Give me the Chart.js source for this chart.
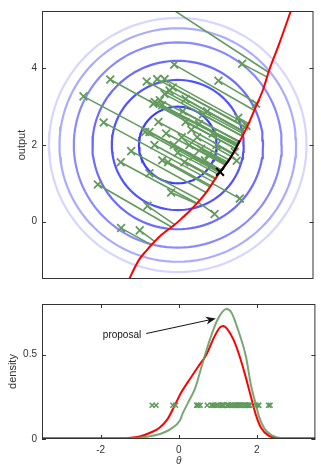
<!DOCTYPE html>
<html>
<head>
<meta charset="utf-8">
<script src="https://cdn.jsdelivr.net/npm/chart.js@4.4.0/dist/chart.umd.min.js"></script>
<style>
  html, body { margin: 0; padding: 0; background: #fff; }
  #wrap { position: relative; width: 321px; height: 467px; }
  canvas { position: absolute; left: 0; }
  #topChart { top: 0; }
  #bottomChart { top: 290px; }
</style>
</head>
<body>
<div id="wrap">
  <canvas id="topChart" width="321" height="290"></canvas>
  <canvas id="bottomChart" width="321" height="177"></canvas>
</div>
<script>
// ---- tick positions ----
const topYTicks = [0, 2, 4];
const bottomXTicks = [-2, 0, 2];
const bottomYTicks = [0, 0.5];

// ---- prior contours (centre + radii of the level circles) ----
const contourCenter = [0, 2];
const contourRadii = [1.0, 1.7, 2.2, 2.68, 3.05, 3.32];
const contourColors = ['#3d3dff', '#5252ff', '#6c6cff', '#8a8aff', '#ababff', '#d6d6ff'];

// ---- forward model curve ----
const curveTheta = [-1.3, -1.0, -0.8, -0.67, -0.5, -0.3, -0.1, 0.1, 0.34, 0.71, 1.09, 1.35, 1.6, 1.8, 1.98, 2.2, 2.36, 2.6, 2.95];
const curveOut   = [-1.6, -1.0, -0.75, -0.6, -0.42, -0.25, -0.1, 0.08, 0.31, 0.73, 1.3, 1.65, 2.1, 2.5, 2.92, 3.45, 3.96, 4.6, 5.6];

// ---- samples and where they land on the curve ----
const sampleTheta = [-0.9, -0.09, 1.66, 1.05, -1.74, -0.8, -0.53, -0.34, -2.43, -0.13, -0.34, -0.59, -0.4, -0.21, -0.46,
  -1.91, -0.84, -0.73, -0.63, -1.2, -1.47, -0.25, -0.73, -2.06, -0.17, -0.78, -1.46, -0.98, 1.52, 1.6, 0.95, 0.17,
  1.47, 1.56, 1.77, 0.76, 0.13, 2.02, 0.2, 0.35, 0.5, 0.1, 0.3, 0.6, -0.1, 0.0, 0.4, 0.7, 0.9, 1.0, 0.8, 0.55,
  -0.3, -0.5, 0.2, 0.65, -0.6, -0.4];
const sampleOut = [6.05, 4.1, 4.12, 3.68, 3.71, 3.66, 3.72, 3.72, 3.27, 3.5, 3.33, 3.12, 3.04, 3.42, 3.17,
  2.59, 2.34, 2.34, 3.08, 1.84, 1.55, 1.55, 1.26, 0.97, 0.76, 0.41, -0.17, -0.23, 1.59, 0.6, 0.2, 1.55,
  1.82, 2.71, 2.5, 2.88, 2.88, 3.08, 2.6, 2.4, 2.2, 2.2, 2.0, 1.9, 2.0, 1.8, 1.7, 1.6, 2.3, 2.0, 1.75, 2.55,
  2.3, 2.6, 3.2, 2.8, 2.0, 1.6];
const projTheta = [2.34, 1.98, 2.3, 2.05, 1.5, 1.7, 1.77, 1.81, 1.15, 1.78, 1.67, 1.54, 1.55, 1.72, 1.6,
  0.93, 1.1, 1.12, 1.57, 0.73, 0.47, 0.86, 0.55, -0.15, 0.46, -0.08, -0.68, -0.58, 1.37, 0.9, 0.5, 0.99,
  1.46, 1.82, 1.78, 1.73, 1.59, 2.04, 1.5, 1.43, 1.38, 1.29, 1.25, 1.27, 1.13, 1.07, 1.12, 1.15, 1.53, 1.42, 1.26, 1.55,
  1.24, 1.33, 1.72, 1.67, 1.0, 0.84];
const projOut = [3.9, 2.9, 3.78, 3.08, 1.9, 2.29, 2.44, 2.52, 1.33, 2.46, 2.23, 1.98, 2.0, 2.33, 2.09,
  1.03, 1.26, 1.29, 2.03, 0.76, 0.49, 0.93, 0.57, -0.15, 0.48, -0.08, -0.61, -0.53, 1.69, 0.99, 0.52, 1.1,
  1.83, 2.56, 2.47, 2.35, 2.07, 3.06, 1.9, 1.78, 1.7, 1.55, 1.48, 1.52, 1.3, 1.22, 1.29, 1.33, 1.96, 1.76, 1.5, 2.0,
  1.47, 1.61, 2.33, 2.23, 1.12, 0.9];

// ---- highlighted point and local segment ----
const refTheta = [1.09];
const refOut = [1.3];
const segTheta = [1.08, 1.35, 1.6];
const segOut = [1.28, 1.65, 2.12];

// ---- densities ----
const trueTheta = [-3.5, -1.5, -1.0, -0.7, -0.5, -0.3, -0.1, 0.05, 0.3, 0.5, 0.71, 0.9, 1.05, 1.14, 1.25, 1.4, 1.56, 1.7, 1.85, 1.98, 2.1, 2.3, 2.5, 3.5];
const trueDensity = [0.004, 0.004, 0.015, 0.04, 0.065, 0.113, 0.2, 0.27, 0.36, 0.43, 0.5, 0.6, 0.66, 0.67, 0.65, 0.59, 0.49, 0.38, 0.25, 0.14, 0.07, 0.02, 0.006, 0.004];
const propTheta = [-3.5, -1.5, -1.0, -0.55, -0.2, 0.03, 0.1, 0.25, 0.42, 0.6, 0.8, 1.0, 1.22, 1.35, 1.5, 1.72, 1.85, 1.98, 2.06, 2.2, 2.4, 2.6, 3.5];
const propDensity = [0.004, 0.004, 0.008, 0.025, 0.06, 0.11, 0.15, 0.22, 0.3, 0.44, 0.59, 0.71, 0.77, 0.75, 0.66, 0.49, 0.32, 0.2, 0.13, 0.06, 0.02, 0.006, 0.004];
const sampleLevel = 0.2;

// ---- annotation ----
const noteText = 'proposal';
const noteAt = [-0.96, 0.612];
const arrowFrom = [-0.83, 0.625];
const arrowTo = [0.95, 0.714];

const green = '#639a5e';
const tickFont = { family: 'Liberation Sans', size: 10 };

function pts(xs, ys) { return xs.map((x, i) => ({ x: x, y: ys[i] })); }

// box around the plot with inward ticks on all four sides
const framePlugin = {
  id: 'frame',
  afterDraw(chart, args, opts) {
    const { ctx, chartArea: a, scales } = chart;
    ctx.save();
    ctx.strokeStyle = '#333';
    ctx.lineWidth = 1;
    ctx.strokeRect(a.left + 0.5, a.top + 0.5, a.right - a.left - 1, a.bottom - a.top - 1);
    ctx.beginPath();
    (opts.yTicks || []).forEach(v => {
      const y = Math.round(scales.y.getPixelForValue(v)) + 0.5;
      ctx.moveTo(a.left, y); ctx.lineTo(a.left + 4, y);
      ctx.moveTo(a.right - 4, y); ctx.lineTo(a.right, y);
    });
    (opts.xTicks || []).forEach(v => {
      const x = Math.round(scales.x.getPixelForValue(v)) + 0.5;
      ctx.moveTo(x, a.top); ctx.lineTo(x, a.top + 4);
      ctx.moveTo(x, a.bottom - 4); ctx.lineTo(x, a.bottom);
    });
    ctx.stroke();
    ctx.restore();
  }
};

// text label with an arrow pointing at the proposal peak
const notePlugin = {
  id: 'note',
  afterDraw(chart) {
    const { ctx, scales: { x, y } } = chart;
    const tx = x.getPixelForValue(noteAt[0]), ty = y.getPixelForValue(noteAt[1]);
    const x0 = x.getPixelForValue(arrowFrom[0]), y0 = y.getPixelForValue(arrowFrom[1]);
    const x1 = x.getPixelForValue(arrowTo[0]), y1 = y.getPixelForValue(arrowTo[1]);
    ctx.save();
    ctx.fillStyle = '#111';
    ctx.font = '10px "Liberation Sans"';
    ctx.textAlign = 'right';
    ctx.textBaseline = 'middle';
    ctx.fillText(noteText, tx, ty);
    const ang = Math.atan2(y1 - y0, x1 - x0);
    ctx.strokeStyle = '#111';
    ctx.lineWidth = 1;
    ctx.beginPath();
    ctx.moveTo(x0, y0);
    ctx.lineTo(x1 - 6 * Math.cos(ang), y1 - 6 * Math.sin(ang));
    ctx.stroke();
    ctx.translate(x1, y1);
    ctx.rotate(ang);
    ctx.beginPath();
    ctx.moveTo(0, 0);
    ctx.lineTo(-10, -4);
    ctx.lineTo(-7, 0);
    ctx.lineTo(-10, 4);
    ctx.closePath();
    ctx.fill();
    ctx.restore();
  }
};

// ---- top panel ----
const contourSets = contourRadii.map((r, k) => {
  const data = [];
  for (let i = 0; i <= 120; i++) {
    const a = i / 120 * Math.PI * 2;
    data.push({ x: contourCenter[0] + r * Math.cos(a), y: contourCenter[1] + r * Math.sin(a) });
  }
  return { data: data, showLine: true, borderColor: contourColors[k], borderWidth: 2.2, pointRadius: 0, order: 10 };
});

const linkSets = sampleTheta.map((t, i) => ({
  data: [{ x: t, y: sampleOut[i] }, { x: projTheta[i], y: projOut[i] }],
  showLine: true, borderColor: green, borderWidth: 1.6, pointRadius: 0, order: 5
}));

new Chart(document.getElementById('topChart'), {
  type: 'scatter',
  data: {
    datasets: [
      { data: pts(segTheta, segOut), showLine: true, borderColor: '#000', borderWidth: 2, pointRadius: 0, cubicInterpolationMode: 'monotone', order: 0 },
      { data: pts(refTheta, refOut), pointStyle: 'crossRot', pointRadius: 5.5, borderColor: '#000', borderWidth: 2, order: 0 },
      { data: pts(curveTheta, curveOut), showLine: true, borderColor: '#ff0000', borderWidth: 2, pointRadius: 0, cubicInterpolationMode: 'monotone', order: 1 },
      { data: pts(sampleTheta, sampleOut), pointStyle: 'crossRot', pointRadius: 5.5, borderColor: green, borderWidth: 1.8, order: 3 },
      ...linkSets,
      ...contourSets
    ]
  },
  options: {
    responsive: false,
    animation: false,
    events: [],
    layout: { padding: { top: 7, right: 1, bottom: 3, left: 0 } },
    plugins: { legend: { display: false }, tooltip: { enabled: false }, frame: { yTicks: topYTicks } },
    scales: {
      x: { type: 'linear', min: -3.5, max: 3.5, display: false },
      y: {
        type: 'linear', min: -1.5, max: 5.5,
        grid: { display: false, drawTicks: false }, border: { display: false },
        afterBuildTicks: s => { s.ticks = topYTicks.map(v => ({ value: v })); },
        afterFit: s => { s.width = 42; },
        ticks: { color: '#333', font: tickFont, padding: 5, callback: v => String(v) },
        title: { display: true, text: 'output', color: '#333', font: { family: 'Liberation Sans', size: 11 }, padding: { top: 15, bottom: 0 } }
      }
    }
  },
  plugins: [framePlugin]
});

// ---- bottom panel ----
new Chart(document.getElementById('bottomChart'), {
  type: 'scatter',
  data: {
    datasets: [
      { data: pts(projTheta, projTheta.map(() => sampleLevel)), pointStyle: 'crossRot', pointRadius: 3.5, borderColor: green, borderWidth: 1.6, order: 0 },
      { data: pts(propTheta, propDensity), showLine: true, borderColor: 'rgba(96,152,90,0.85)', borderWidth: 2, pointRadius: 0, cubicInterpolationMode: 'monotone', order: 1 },
      { data: pts(trueTheta, trueDensity), showLine: true, borderColor: '#ff0000', borderWidth: 2, pointRadius: 0, cubicInterpolationMode: 'monotone', order: 2 }
    ]
  },
  options: {
    responsive: false,
    animation: false,
    events: [],
    layout: { padding: { top: 14, right: 1, bottom: 0, left: 0 } },
    plugins: { legend: { display: false }, tooltip: { enabled: false }, frame: { xTicks: bottomXTicks, yTicks: bottomYTicks } },
    scales: {
      x: {
        type: 'linear', min: -3.5, max: 3.5,
        grid: { display: false, drawTicks: false }, border: { display: false },
        afterBuildTicks: s => { s.ticks = bottomXTicks.map(v => ({ value: v })); },
        afterFit: s => { s.height = 28; },
        ticks: { color: '#333', font: tickFont, padding: 5, maxRotation: 0, callback: v => String(v) },
        title: { display: true, text: 'θ', color: '#333', font: { family: 'Liberation Sans', size: 10, style: 'italic' }, padding: { top: 0, bottom: 0 } }
      },
      y: {
        type: 'linear', min: 0, max: 0.8,
        grid: { display: false, drawTicks: false }, border: { display: false },
        afterBuildTicks: s => { s.ticks = bottomYTicks.map(v => ({ value: v })); },
        afterFit: s => { s.width = 42; },
        ticks: { color: '#333', font: tickFont, padding: 5, callback: v => String(v) },
        title: { display: true, text: 'density', color: '#333', font: { family: 'Liberation Sans', size: 11 }, padding: { top: 6, bottom: 0 } }
      }
    }
  },
  plugins: [framePlugin, notePlugin]
});
</script>
</body>
</html>
